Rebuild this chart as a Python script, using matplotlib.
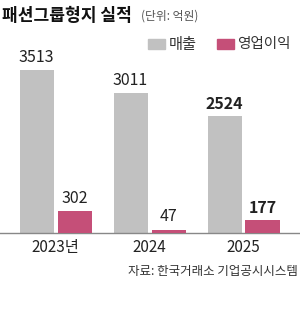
import matplotlib
matplotlib.use("Agg")
import matplotlib.pyplot as plt
from matplotlib.patches import Rectangle

plt.rcParams['font.family'] = ['Noto Sans CJK KR', 'DejaVu Sans']

years = ["2023년", "2024", "2025"]
sales = [3513, 3011, 2524]
profit = [302, 47, 177]
bold_flags = [False, False, True]

gray = "#c1c1c1"
pink = "#c54f78"

fig = plt.figure(figsize=(3.0, 3.1), dpi=100)
W, H = 300, 310
base_y = 233
top_y = 60
ax = fig.add_axes([0, (H - base_y) / H, 1, (base_y - top_y) / H])
ax2 = ax.twinx()

x = list(range(len(years)))
bw = 34 / 94
off = 19 / 94
ax.bar([i - off for i in x], sales, width=bw, color=gray, zorder=2)
ax2.bar([i + off for i in x], profit, width=bw, color=pink, zorder=2)

ax.set_xlim(-55.5 / 94, (300 - 55.5) / 94)
ax.set_ylim(0, 3513 * 173 / 163)
ax2.set_ylim(0, 302 * 173 / 22)

for i, v in enumerate(sales):
    ax.annotate(f"{v}", (i - off, v), xytext=(0, 3), textcoords="offset points",
                ha="center", va="bottom", fontsize=11.5,
                fontweight="bold" if bold_flags[i] else "normal", color="#222222",
                annotation_clip=False)
for i, v in enumerate(profit):
    ax2.annotate(f"{v}", (i + off, v), xytext=(0, 3), textcoords="offset points",
                 ha="center", va="bottom", fontsize=11.5,
                 fontweight="bold" if bold_flags[i] else "normal", color="#222222",
                 annotation_clip=False)

for a in (ax, ax2):
    for s in ("top", "right", "left"):
        a.spines[s].set_visible(False)
    a.set_yticks([])
ax.spines["bottom"].set_color("#888888")
ax.spines["bottom"].set_linewidth(1)
ax2.spines["bottom"].set_visible(False)
ax.set_xticks(x)
ax.set_xticklabels(years, fontsize=11, color="#222222")
ax.tick_params(axis="x", length=0, pad=4)

# Title
fig.text(2 / W, 1 - 16 / H, "패션그룹형지 실적", fontsize=12.3, fontweight="bold",
         ha="left", va="center", color="#111111")
fig.text(141 / W, 1 - 16 / H, "(단위: 억원)", fontsize=8.5, ha="left", va="center",
         color="#555555")

# Legend
ly = 1 - 44 / H
fig.patches.append(Rectangle((148 / W, ly - 5 / H), 17 / W, 10 / H,
                             transform=fig.transFigure, color=gray))
fig.text(169 / W, ly, "매출", fontsize=11, ha="left", va="center", color="#333333")
fig.patches.append(Rectangle((217 / W, ly - 5 / H), 17 / W, 10 / H,
                             transform=fig.transFigure, color=pink))
fig.text(237 / W, ly, "영업이익", fontsize=10.5, ha="left", va="center", color="#333333")

# Source
fig.text(298 / W, 1 - 272 / H, "자료: 한국거래소 기업공시시스템", fontsize=9,
         ha="right", va="center", color="#333333")

fig.savefig("out.png", dpi=100)
